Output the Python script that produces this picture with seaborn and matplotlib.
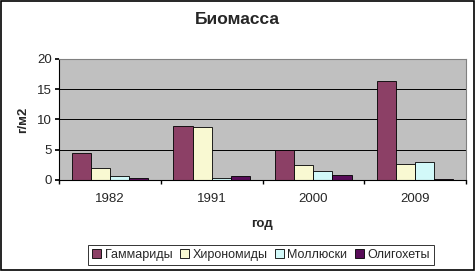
import matplotlib
matplotlib.use("Agg")
import matplotlib.pyplot as plt
import seaborn as sns
import pandas as pd
from matplotlib.patches import Rectangle

years = ["1982", "1991", "2000", "2009"]
series = ["Гаммариды", "Хирономиды", "Моллюски", "Олигохеты"]
gammarids = [4.4, 9.0, 4.9, 16.4]
chironomids = [1.95, 8.8, 2.4, 2.7]
mollusks = [0.6, 0.25, 1.5, 3.0]
oligochaetes = [0.3, 0.6, 0.8, 0.1]
colors = ["#993366", "#FFFFCC", "#CCFFFF", "#660066"]
yticks = [0, 5, 10, 15, 20]

rows = []
for name, vals in zip(series, [gammarids, chironomids, mollusks, oligochaetes]):
    for y, v in zip(years, vals):
        rows.append({"год": y, "серия": name, "значение": v})
df = pd.DataFrame(rows)

sns.set_theme(style="white")
plt.rcParams["font.family"] = ["Liberation Sans", "DejaVu Sans"]

fig = plt.figure(figsize=(4.75, 2.71), dpi=100)
ax = fig.add_axes([59/475, 1-180/271, (466-59)/475, (180-59)/271])
sns.barplot(data=df, x="год", y="значение", hue="серия", palette=colors,
            width=0.75, edgecolor="black", linewidth=0.6, ax=ax, legend=True)
ax.set_facecolor("#C0C0C0")
ax.set_ylim(0, 20)
ax.set_yticks(yticks)
ax.yaxis.grid(True, color="black", linewidth=0.7)
ax.set_axisbelow(True)
for s in ax.spines.values():
    s.set_color("#808080")
    s.set_linewidth(0.8)
ax.spines["left"].set_color("black")
ax.spines["bottom"].set_color("black")
ax.tick_params(axis="both", labelsize=9.5, length=3, color="black", left=True, bottom=False, pad=2)
ax.set_xticks([-0.5, 0.5, 1.5, 2.5, 3.5], minor=True)
ax.tick_params(axis="x", which="minor", length=3, bottom=True, color="black")
ax.tick_params(axis="x", pad=6)
ax.set_xlim(-0.5, 3.5)
ax.set_xlabel("год", fontsize=9.5, fontweight="bold", labelpad=10)
ax.set_ylabel("г/м2", fontsize=9.5, fontweight="bold", labelpad=6)
fig.text(0.5, 1-20/271, "Биомасса", ha="center", va="center", fontsize=12.5, fontweight="bold")

handles, labels = ax.get_legend_handles_labels()
ax.legend(handles, labels, ncol=4, loc="center", bbox_to_anchor=(261/475, 1-255/271),
          bbox_transform=fig.transFigure, frameon=True, fancybox=False, edgecolor="black",
          fontsize=9, handlelength=0.7, handleheight=0.7, handletextpad=0.3, columnspacing=0.6,
          borderpad=0.3)
ax.get_legend().get_frame().set_linewidth(0.7)

fig.patches.append(Rectangle((0.002, 0.003), 0.995, 0.993, transform=fig.transFigure,
                             fill=False, edgecolor="black", linewidth=1.2))
fig.savefig("out.png", dpi=100)
